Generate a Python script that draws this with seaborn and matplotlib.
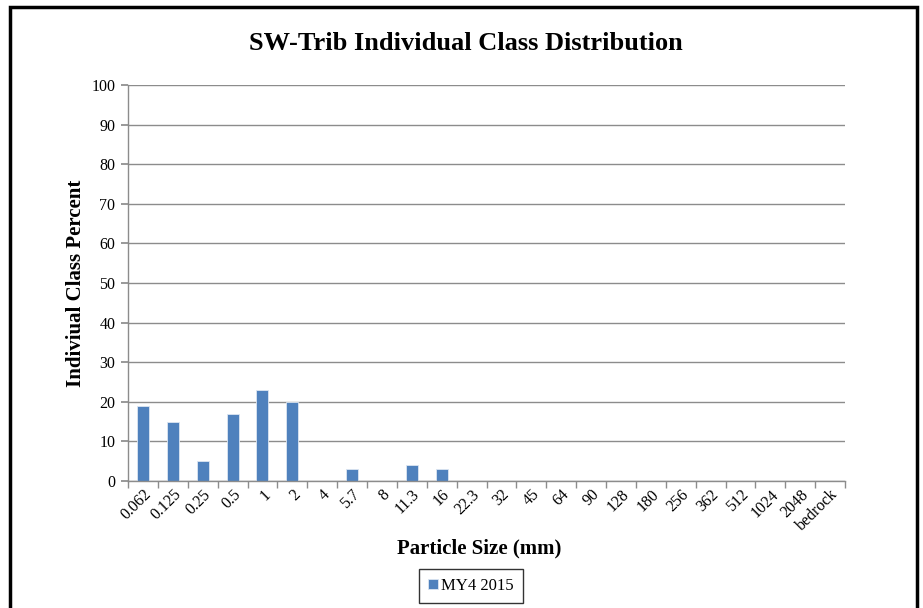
import matplotlib
matplotlib.use("Agg")
import matplotlib.pyplot as plt
from matplotlib.patches import Rectangle
import seaborn as sns
import pandas as pd
import numpy as np

sizes = ["0.062", "0.125", "0.25", "0.5", "1", "2", "4", "5.7", "8", "11.3",
         "16", "22.3", "32", "45", "64", "90", "128", "180", "256", "362",
         "512", "1024", "2048", "bedrock"]
percent = [19, 15, 5, 17, 23, 20, 0, 3, 0, 4,
           3, 0, 0, 0, 0, 0, 0, 0, 0, 0,
           0, 0, 0, 0]
series = "MY4 2015"

df = pd.DataFrame({"size": sizes, "percent": percent, "series": series})

sns.set_theme(style="white")
plt.rcParams["font.family"] = ["Liberation Serif", "DejaVu Serif"]
plt.rcParams["text.color"] = "black"
plt.rcParams["axes.labelcolor"] = "black"
plt.rcParams["xtick.color"] = "black"
plt.rcParams["ytick.color"] = "black"

fig = plt.figure(figsize=(9.23, 6.08), dpi=100)
ax = fig.add_axes([128 / 923, 1 - 481 / 608, (845 - 128) / 923, (481 - 85) / 608])

sns.barplot(data=df, x="size", y="percent", hue="series", order=sizes,
            palette=["#4f81bd"], saturation=1, width=0.4, ax=ax, legend=True,
            edgecolor="#dce6f2", linewidth=0.6)

ax.set_ylim(0, 100)
ax.set_xlim(-0.5, len(sizes) - 0.5)
ax.set_yticks(range(0, 101, 10))
ax.yaxis.grid(True, color="#8c8c8c", linewidth=1)
ax.set_axisbelow(True)
for s in ["top", "right"]:
    ax.spines[s].set_visible(False)
for s in ["left", "bottom"]:
    ax.spines[s].set_color("#8c8c8c")
    ax.spines[s].set_linewidth(1)

ax.tick_params(axis="y", which="major", length=5, color="#8c8c8c", left=True,
               labelsize=11.5, pad=4)
ax.set_xticks(np.arange(-0.5, len(sizes), 1.0), minor=True)
ax.tick_params(axis="x", which="minor", length=5, color="#8c8c8c", bottom=True)
ax.tick_params(axis="x", which="major", length=0, labelsize=11.5, pad=4)
plt.setp(ax.get_xticklabels(), rotation=45, ha="right", rotation_mode="anchor")

ax.set_xlabel("Particle Size (mm)", fontsize=15, fontweight="bold")
ax.xaxis.set_label_coords((479 - 128) / (845 - 128), -(538 - 481) / (481 - 85))
ax.set_ylabel("Indiviual Class Percent", fontsize=15, fontweight="bold", labelpad=4)
fig.text(466 / 923, 1 - 44 / 608, "SW-Trib Individual Class Distribution",
         ha="center", va="center", fontsize=19, fontweight="bold")

leg = ax.legend(loc="center", bbox_to_anchor=(471 / 923, 1 - 586 / 608),
                bbox_transform=fig.transFigure, fontsize=12, frameon=True,
                fancybox=False, handlelength=0.55, handleheight=0.55,
                handletextpad=0.2, borderpad=0.55, borderaxespad=0)
leg.get_frame().set_edgecolor("black")
leg.get_frame().set_linewidth(1)

fig.patches.append(Rectangle((9.5 / 923, -0.05), (917 - 9.5) / 923, 1.05 - 7 / 608,
                             transform=fig.transFigure, fill=False,
                             edgecolor="black", linewidth=2.5))

fig.savefig("out.png", dpi=100)
